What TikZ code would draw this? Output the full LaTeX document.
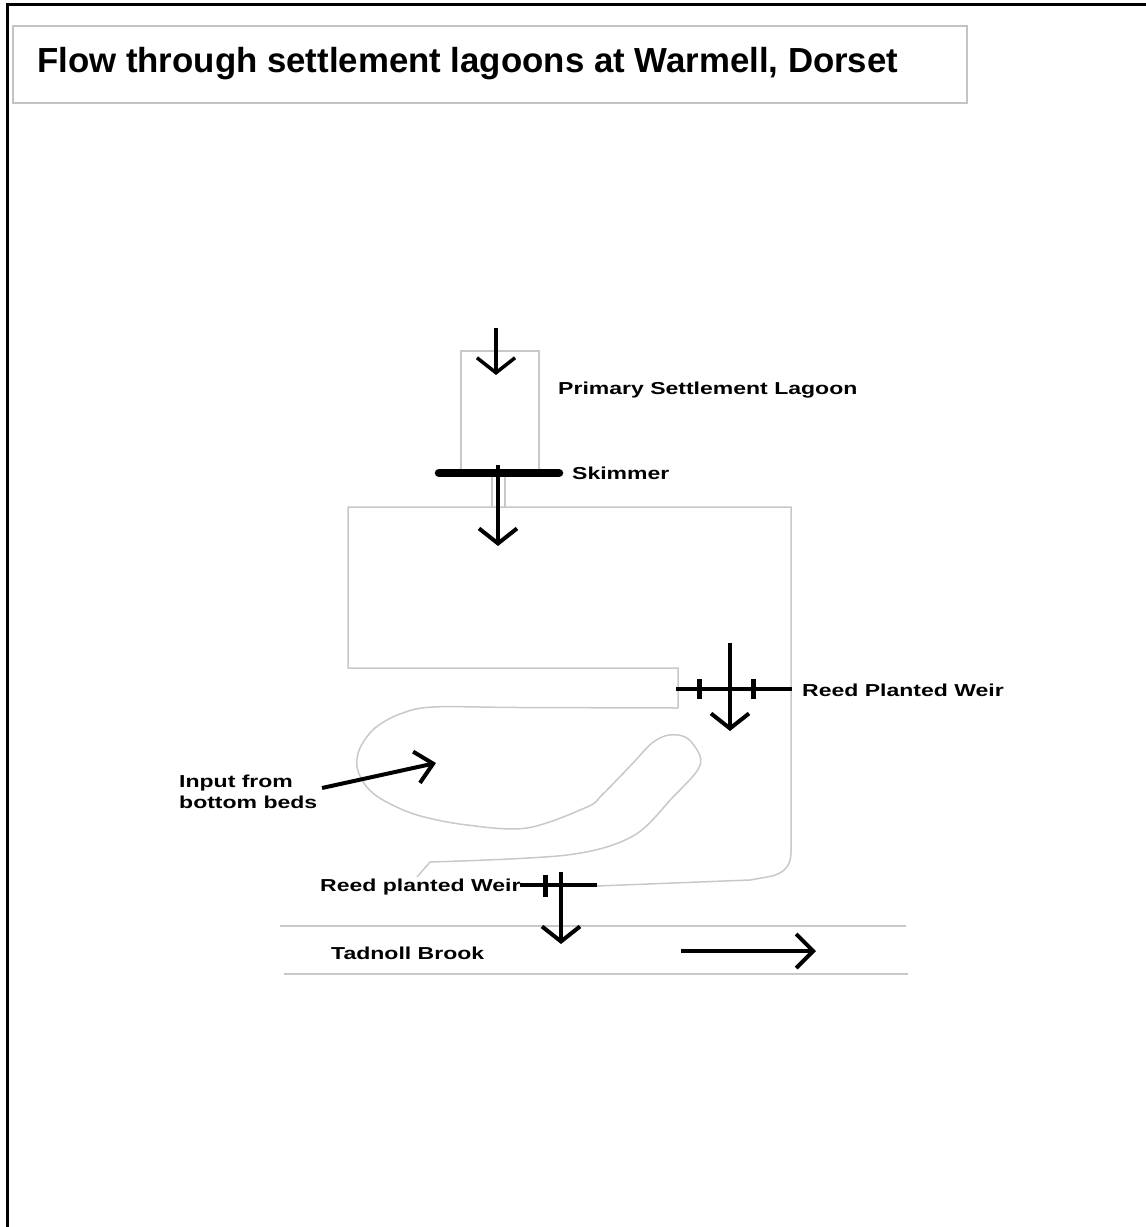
\documentclass[tikz,border=0pt]{standalone}
\usepackage{fontspec}
\setmainfont{Liberation Sans}
\newfontfamily\lblfont[FakeStretch=1.33]{Liberation Sans}
\usetikzlibrary{arrows.meta}
\definecolor{outl}{RGB}{200,200,200}
\definecolor{boxc}{RGB}{195,195,195}
\begin{document}
\begin{tikzpicture}[x=1pt,y=-1pt,
  thinline/.style={draw=outl, line width=1.5pt},
  lbl/.style={anchor=base west, inner sep=0pt, font=\lblfont\bfseries\fontsize{17.3}{21}\selectfont},
  flow/.style={line width=4pt, -{Straight Barb[length=15pt,width=38pt]}},
  weirbar/.style={line width=4pt},
  weirtick/.style={line width=5pt}]
\useasboundingbox (0,0) rectangle (1146,1227);
% frame
\draw[line width=3pt] (7,1227) -- (7,4) -- (1146,4);
% title
\draw[boxc, line width=2pt] (13,26) rectangle (967,103);
\node[anchor=base west, inner sep=0pt, font=\bfseries\fontsize{34.8}{40}\selectfont] (title) at (37,72) {Flow through settlement lagoons at Warmell, Dorset};

% primary lagoon
\draw[thinline] (461,470) -- (461,351) -- (539,351) -- (539,470);
% channel below skimmer
\draw[thinline] (492,473) -- (492,507);
\draw[thinline] (505,473) -- (505,507);
% big lagoon outline
\draw[thinline] (678,708) -- (678,668) -- (348,668) -- (348,507) -- (791,507) -- (791,853)
  .. controls (791,868) and (781,875) .. (767,877) -- (750,880) -- (597,886);
% inner partition
\draw[thinline] plot[smooth, tension=0.55] coordinates {(678,708) (520,707.5) (433,707) (400,714) (375,728) (360,748) (357,767) (366,786) (383,800) (417,815) (467,825) (527,828) (587,807) (602,795) (633,763) (652,743) (669,735) (687,738) (700,756) (697,771) (673,797) (633,836) (567,855) (430,862)} -- (417,877);
% Tadnoll brook banks
\draw[outl, line width=2pt] (280,926) -- (906,926);
\draw[outl, line width=2pt] (284,974) -- (908,974);

% coordinates for flows
\coordinate (inA) at (496,328); \coordinate (inB) at (496,375);
\coordinate (skA) at (498,465); \coordinate (skB) at (498,546);
\coordinate (wrA) at (730,643); \coordinate (wrB) at (730,731);
\coordinate (wbA) at (561,872); \coordinate (wbB) at (561,944);
\coordinate (ipA) at (322,788); \coordinate (ipB) at (436,763);
\coordinate (brA) at (681,951); \coordinate (brB) at (816,951);

% skimmer
\coordinate (skL) at (439,473); \coordinate (skR) at (559,473);
\draw[line width=8.5pt, line cap=round] (skL) -- (skR);
% right weir
\coordinate (wrL) at (676,689); \coordinate (wrR) at (792,689);
\draw[weirbar] (wrL) -- (wrR);
\draw[weirtick] (699,679) -- (699,699);
\draw[weirtick] (753,679) -- (753,699);
% bottom weir
\coordinate (wbL) at (520,885); \coordinate (wbR) at (597,885);
\draw[weirbar] (wbL) -- (wbR);
\draw[weirtick] (545,875) -- (545,897);

% flow arrows
\draw[flow, line width=3.5pt] (inA) -- (inB);
\draw[flow] (skA) -- (skB);
\draw[flow] (wrA) -- (wrB);
\draw[flow] (wbA) -- (wbB);
\draw[flow, -{Straight Barb[length=17pt,width=32pt]}] (ipA) -- (ipB);
\draw[flow, -{Straight Barb[length=17pt,width=34pt]}] (brA) -- (brB);

% labels
\node[lbl] (primary) at (558,394) {Primary Settlement Lagoon};
\node[lbl] (skimmer) at (572,479) {Skimmer};
\node[lbl] (weirR) at (802,696) {Reed Planted Weir};
\node[lbl] (input1) at (179,787) {Input from};
\node[lbl] (input2) at (179,808) {bottom beds};
\node[lbl] (weirB) at (320,891) {Reed planted Weir};
\node[lbl] (brook) at (331,959) {Tadnoll Brook};
\end{tikzpicture}
\end{document}
